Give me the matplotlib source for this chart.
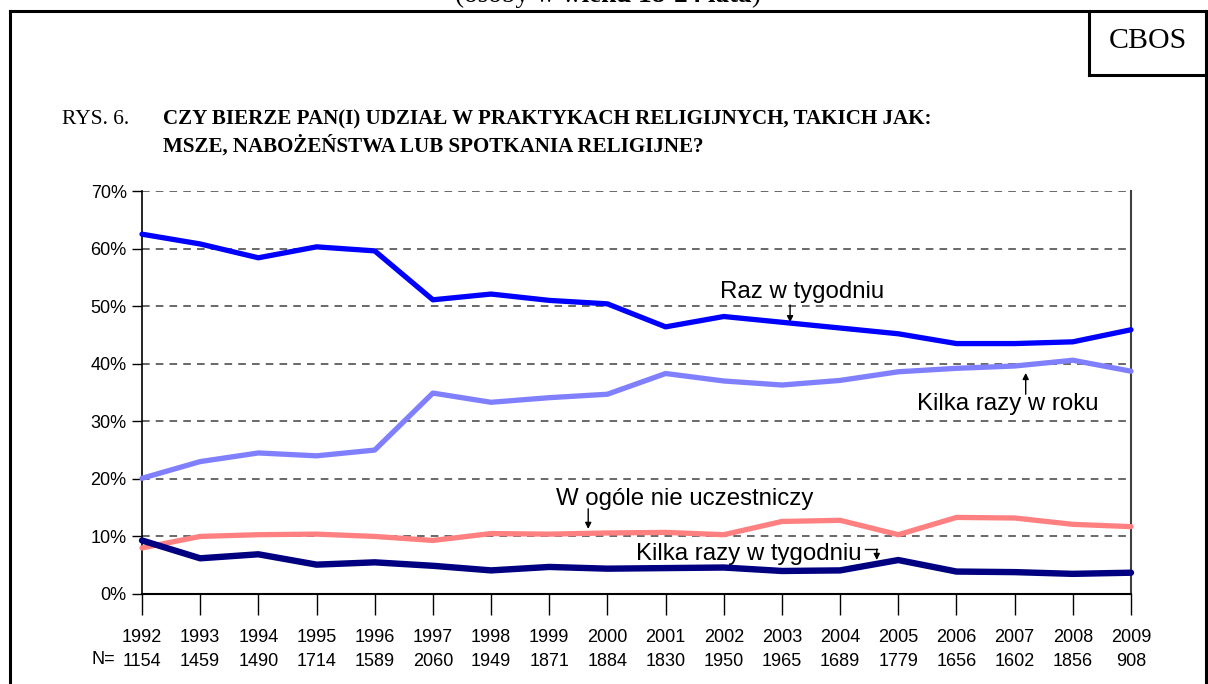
import matplotlib
matplotlib.use("Agg")
import matplotlib.pyplot as plt
from matplotlib.lines import Line2D

# dane
years = [1992, 1993, 1994, 1995, 1996, 1997, 1998, 1999, 2000,
         2001, 2002, 2003, 2004, 2005, 2006, 2007, 2008, 2009]
n_resp = [1154, 1459, 1490, 1714, 1589, 2060, 1949, 1871, 1884,
          1830, 1950, 1965, 1689, 1779, 1656, 1602, 1856, 908]
raz_w_tygodniu = [62.5, 60.8, 58.4, 60.3, 59.6, 51.1, 52.1, 51.0, 50.4,
                  46.4, 48.2, 47.2, 46.2, 45.2, 43.5, 43.5, 43.8, 45.9]
kilka_w_roku = [20.1, 23.0, 24.5, 24.0, 25.0, 34.9, 33.3, 34.1, 34.7,
                38.3, 37.0, 36.3, 37.1, 38.6, 39.2, 39.6, 40.6, 38.7]
wcale = [8.0, 10.0, 10.3, 10.4, 10.0, 9.3, 10.5, 10.4, 10.6,
         10.7, 10.3, 12.6, 12.8, 10.3, 13.3, 13.2, 12.1, 11.7]
kilka_w_tygodniu = [9.3, 6.2, 6.9, 5.1, 5.5, 4.9, 4.1, 4.7, 4.4,
                    4.5, 4.6, 4.0, 4.1, 5.9, 3.9, 3.8, 3.5, 3.7]

W, H = 1208, 684
fig = plt.figure(figsize=(W / 100, H / 100), dpi=100)
fig.patch.set_facecolor("white")

SANS = "Liberation Sans"
SERIF = "Liberation Serif"

# ramka strony
frame_kw = dict(color="black", lw=2.2, transform=fig.transFigure)
fig.add_artist(Line2D([10 / W, 10 / W], [0, 1 - 11 / H], **frame_kw))
fig.add_artist(Line2D([10 / W, 1.0], [1 - 11 / H, 1 - 11 / H], **frame_kw))
fig.add_artist(Line2D([1206 / W, 1206 / W], [0, 1 - 11 / H], **frame_kw))
fig.add_artist(Line2D([1089 / W, 1089 / W], [1 - 11 / H, 1 - 75 / H], **frame_kw))
fig.add_artist(Line2D([1089 / W, 1206 / W], [1 - 75 / H, 1 - 75 / H], **frame_kw))
fig.text(1148 / W, 1 - 41 / H, "CBOS", family=SERIF, fontsize=21.5,
         ha="center", va="center")

# ucięty nagłówek u góry strony (kawałki łączone jeden za drugim)
renderer = fig.canvas.get_renderer()
header = [("(osoby w ", "normal"), ("wieku 18-24 lata", "bold"), (")", "normal")]
x_px = 455
for txt, wgt in header:
    t = fig.text(x_px / W, 1 - 2 / H, txt, family=SERIF, fontsize=19.5,
                 fontweight=wgt, ha="left", va="baseline")
    x_px += t.get_window_extent(renderer).width

# tytuł
fig.text(62 / W, 1 - 119 / H, "RYS. 6.", family=SERIF, fontsize=15.5,
         ha="left", va="center")
fig.text(163 / W, 1 - 119 / H,
         "CZY BIERZE PAN(I) UDZIAŁ W PRAKTYKACH RELIGIJNYCH, TAKICH JAK:",
         family=SERIF, fontsize=15.1, fontweight="bold", ha="left", va="center")
fig.text(163 / W, 1 - 146 / H, "MSZE, NABOŻEŃSTWA LUB SPOTKANIA RELIGIJNE?",
         family=SERIF, fontsize=15.1, fontweight="bold", ha="left", va="center")

# wykres
ax = fig.add_axes([142 / W, 1 - 594 / H, (1131 - 142) / W, (594 - 191) / H])
ax.set_xlim(years[0], years[-1])
ax.set_ylim(0, 70)

for y in range(10, 80, 10):
    ax.axhline(y, color="#404040", lw=1.1, ls=(0, (5, 4)), zorder=1)

ax.plot(years, kilka_w_roku, color="#8080FF", lw=3.8, zorder=3,
        solid_capstyle="round", clip_on=False)
ax.plot(years, raz_w_tygodniu, color="#0000FF", lw=3.8, zorder=4,
        solid_capstyle="round", clip_on=False)
ax.plot(years, wcale, color="#FF8080", lw=3.8, zorder=3,
        solid_capstyle="round", clip_on=False)
ax.plot(years, kilka_w_tygodniu, color="#000080", lw=4.6, zorder=4,
        solid_capstyle="round", clip_on=False)

ax.spines["top"].set_visible(False)
ax.spines["right"].set_color("#404040")
ax.spines["right"].set_linewidth(1.5)
ax.spines["left"].set_linewidth(1.2)
ax.spines["bottom"].set_linewidth(1.5)

ax.set_yticks(range(0, 80, 10))
ax.set_yticklabels([f"{v}%" for v in range(0, 80, 10)], family=SANS, fontsize=13)
ax.tick_params(axis="y", length=7, width=1, pad=4)

ax.set_xticks(years)
ax.set_xticklabels([f"{y}\n{n}" for y, n in zip(years, n_resp)],
                   family=SANS, fontsize=13, linespacing=1.55)
ax.tick_params(axis="x", length=15, width=1, pad=10, direction="out")
fig.text(115 / W, 1 - 660 / H, "N=", family=SANS, fontsize=13,
         ha="right", va="center")

# opisy serii
arrow_kw = dict(arrowstyle="-|>", color="black", lw=1, mutation_scale=9,
                shrinkA=0, shrinkB=0)
ax.annotate("", xy=(2003.14, 47.2), xytext=(2003.14, 50.2), arrowprops=arrow_kw)
ax.text(2003.34, 52.5, "Raz w tygodniu", family=SANS, fontsize=17.3,
        ha="center", va="center")

ax.annotate("", xy=(2007.19, 38.4), xytext=(2007.19, 34.7), arrowprops=arrow_kw)
ax.text(2006.88, 33.0, "Kilka razy w roku", family=SANS, fontsize=17.3,
        ha="center", va="center")

ax.annotate("", xy=(1999.67, 11.3), xytext=(1999.67, 14.8), arrowprops=arrow_kw)
ax.text(2001.32, 16.5, "W ogóle nie uczestniczy", family=SANS, fontsize=17.3,
        ha="center", va="center")

ax.plot([2004.42, 2004.63], [7.8, 7.8], color="black", lw=1, zorder=5)
ax.annotate("", xy=(2004.63, 5.9), xytext=(2004.63, 7.8), arrowprops=arrow_kw)
ax.text(2002.43, 6.95, "Kilka razy w tygodniu", family=SANS, fontsize=17.3,
        ha="center", va="center")

fig.savefig("out.png", dpi=100, facecolor="white")
